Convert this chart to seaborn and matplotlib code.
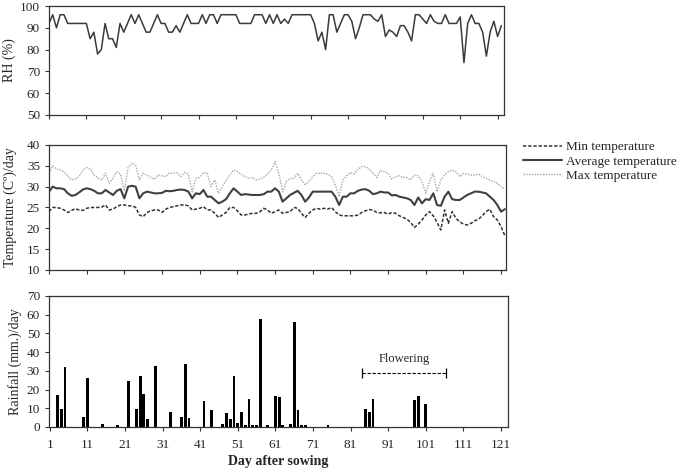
import matplotlib
matplotlib.use("Agg")
import matplotlib.pyplot as plt
import seaborn as sns

# day after sowing
days = list(range(1, 123))
x_ticks = list(range(1, 122, 10))

rh = [92, 96, 90, 96, 96, 92, 92, 92, 92, 92,
      92, 85, 88, 78, 80, 92, 85, 85, 81, 92,
      88, 92, 96, 92, 96, 92, 88, 88, 92, 96,
      92, 92, 88, 88, 91, 88, 92, 96, 92, 92,
      92, 96, 92, 96, 96, 92, 96, 96, 96, 96,
      96, 92, 92, 92, 92, 96, 96, 96, 92, 96,
      92, 96, 92, 94, 92, 96, 96, 96, 96, 96,
      96, 92, 84, 88, 80, 96, 96, 88, 92, 96,
      96, 93, 85, 90, 96, 96, 96, 94, 93, 96,
      86, 89, 88, 86, 91, 91, 88, 84, 96, 96,
      94, 92, 96, 93, 92, 92, 96, 92, 92, 92,
      95, 74, 92, 96, 92, 92, 88, 77, 88, 93,
      86, 91]

t_max = [33.2, 35.0, 34.2, 34.0, 33.6, 32.5, 31.6, 31.8, 32.4, 34.0,
         34.6, 34.3, 32.8, 32.0, 31.6, 33.2, 30.8, 32.0, 33.6, 33.0,
         29.0, 34.6, 35.6, 35.2, 31.6, 33.2, 32.8, 32.2, 31.8, 32.8,
         32.6, 32.4, 33.3, 33.2, 33.3, 32.4, 33.4, 33.0, 28.8, 32.0,
         32.2, 33.4, 33.2, 30.0, 31.6, 28.4, 30.0, 31.5, 32.8, 34.0,
         33.6, 33.0, 32.4, 32.0, 32.2, 31.6, 31.8, 32.3, 33.0, 34.0,
         36.0, 33.2, 28.8, 31.2, 32.0, 32.0, 33.2, 31.6, 30.4, 31.2,
         32.4, 33.2, 33.2, 33.2, 33.0, 32.4, 30.4, 27.6, 31.6, 32.6,
         33.4, 33.0, 34.2, 34.8, 34.8, 34.2, 33.2, 32.2, 33.8, 33.6,
         33.2, 31.8, 32.4, 32.6, 32.2, 32.2, 31.6, 32.8, 32.6, 31.2,
         28.4, 31.2, 33.2, 28.8, 31.6, 32.8, 33.6, 34.0, 33.6, 32.4,
         33.2, 33.0, 32.8, 32.8, 33.0, 32.4, 32.0, 31.6, 31.2, 30.8,
         30.0, 29.4]

t_avg = [28.8, 30.0, 29.6, 29.6, 29.4, 28.4, 27.8, 28.0, 28.6, 29.3,
         29.6, 29.4, 29.0, 28.4, 28.4, 29.2, 28.6, 28.0, 29.0, 29.4,
         27.2, 30.0, 30.2, 30.0, 27.2, 28.4, 28.8, 28.6, 28.4, 28.4,
         28.5, 29.0, 28.9, 29.0, 29.2, 29.3, 29.2, 28.8, 27.2, 28.4,
         28.2, 29.2, 27.6, 27.6, 26.8, 26.0, 26.4, 27.0, 28.4, 29.6,
         28.8, 28.0, 28.2, 28.1, 28.0, 28.0, 28.0, 28.2, 28.8, 28.8,
         29.6, 28.8, 26.4, 27.2, 28.0, 28.5, 29.0, 28.0, 26.4, 27.4,
         28.8, 28.8, 28.8, 28.8, 28.8, 28.8, 27.6, 25.6, 27.6, 27.6,
         28.4, 28.4, 29.0, 29.3, 29.4, 29.0, 28.2, 28.4, 28.8, 28.6,
         28.6, 27.9, 28.0, 27.6, 27.4, 27.2, 26.8, 25.6, 27.4, 26.0,
         27.0, 26.8, 28.4, 25.6, 25.4, 27.6, 28.8, 27.0, 26.8, 26.8,
         27.4, 28.0, 28.4, 28.8, 28.8, 28.6, 28.4, 27.6, 26.8, 25.6,
         24.0, 24.6]

t_min = [24.0, 25.0, 25.0, 24.8, 24.4, 23.8, 24.3, 24.7, 24.4, 24.3,
         24.8, 25.0, 25.0, 25.0, 25.1, 25.6, 24.4, 24.6, 25.2, 25.6,
         25.6, 25.4, 25.4, 25.0, 23.2, 22.8, 23.8, 24.2, 24.4, 24.4,
         23.8, 24.6, 25.0, 25.2, 25.4, 25.6, 25.6, 25.4, 24.4, 24.6,
         24.8, 25.2, 24.4, 24.4, 23.6, 22.6, 23.2, 23.8, 25.0, 25.0,
         24.2, 23.2, 23.2, 23.4, 23.6, 23.6, 24.0, 24.8, 24.4, 23.6,
         24.0, 24.4, 23.6, 23.8, 24.0, 25.0, 24.8, 23.6, 22.6, 23.6,
         24.4, 24.8, 24.6, 24.8, 24.6, 25.0, 24.0, 23.2, 23.0, 23.0,
         23.0, 23.0, 23.2, 23.8, 24.2, 24.5, 24.4, 23.8, 23.7, 23.8,
         23.4, 23.8, 23.6, 23.0, 22.6, 22.2, 21.4, 20.2, 21.0, 22.0,
         23.2, 24.0, 23.0, 21.4, 19.6, 24.4, 21.2, 24.0, 22.4, 21.6,
         21.0, 20.8, 21.2, 21.8, 22.2, 23.0, 24.0, 24.6, 22.8, 22.0,
         20.4, 18.2]

rain_days = [3, 4, 5, 10, 11, 15, 19, 22, 24, 25,
             26, 27, 29, 33, 36, 37, 38, 42, 44, 47,
             48, 49, 50, 51, 52, 53, 54, 55, 56, 57,
             59, 61, 62, 63, 65, 66, 67, 68, 69, 75,
             85, 86, 87, 98, 99, 101]
rain_mm = [17, 9.5, 32, 5.5, 26, 1.6, 0.8, 24.5, 9.5, 27.5,
           17.5, 4.5, 32.6, 8, 5.5, 33.5, 5, 14, 9, 1.8,
           7.5, 4.5, 27, 2.2, 8, 0.8, 15, 0.8, 0.8, 57.6,
           0.8, 16.3, 15.8, 1.1, 1.8, 56.2, 9, 0.8, 0.8, 1.2,
           9.7, 7.8, 15, 14.5, 16.8, 12.4]

sns.set_style("ticks")
plt.rcParams['font.family'] = ['Liberation Serif', 'DejaVu Serif']
plt.rcParams['axes.edgecolor'] = '#333333'
plt.rcParams['axes.linewidth'] = 0.9

fig = plt.figure(figsize=(6.85, 4.73), dpi=100)
ax1 = fig.add_axes([0.0715, 0.7569, 0.6642, 0.2304])
ax2 = fig.add_axes([0.0715, 0.4292, 0.6672, 0.2643])
ax3 = fig.add_axes([0.0715, 0.0973, 0.6701, 0.2770])

# RH
sns.lineplot(x=days, y=rh, ax=ax1, color='#3a3a3a', linewidth=1.1)
ax1.set_ylim(50, 100)
ax1.set_yticks(range(50, 101, 10))
ax1.set_xlim(1, 122.7)
ax1.set_ylabel("RH (%)", fontsize=10)

# temperature
sns.lineplot(x=days, y=t_min, ax=ax2, color='#333333', linewidth=1.1,
             linestyle=(0, (2.2, 1.2)), label="Min temperature")
sns.lineplot(x=days, y=t_avg, ax=ax2, color='#404040', linewidth=1.5,
             label="Average temperature")
sns.lineplot(x=days, y=t_max, ax=ax2, color='#a8a8a8', linewidth=1.0,
             linestyle=(0, (1, 1)), label="Max temperature")
ax2.set_ylim(10, 40)
ax2.set_yticks(range(10, 41, 5))
ax2.set_xlim(1, 122.3)
ax2.set_ylabel("Temperature (Cº)/day", fontsize=10)
ax2.legend(loc='upper left', bbox_to_anchor=(1.0365, 1.03), frameon=False,
           fontsize=9.5, handlelength=3.0, handletextpad=0.25, labelspacing=0.15,
           borderpad=0, borderaxespad=0)

# rainfall
sns.barplot(x=rain_days, y=rain_mm, ax=ax3, native_scale=True, color='black',
            saturation=1, width=0.75, errorbar=None, linewidth=0)
ax3.set_ylim(0, 70)
ax3.set_yticks(range(0, 71, 10))
ax3.set_xlim(0.75, 122.9)
ax3.set_ylabel("Rainfall (mm.)/day", fontsize=10)
ax3.set_xlabel("Day after sowing", fontsize=10, fontweight='bold')

# flowering period
ax3.plot([84, 106.4], [29, 29], color='black', linewidth=0.8, linestyle=(0, (3, 1.5)))
ax3.plot([84, 106.4], [29, 29], color='black', linestyle='none', marker='|',
         markersize=7, markeredgewidth=0.9)
ax3.text(95.2, 33, "Flowering", ha='center', va='bottom', fontsize=9)

for ax in (ax1, ax2, ax3):
    ax.set_xticks(x_ticks)
    ax.tick_params(axis='both', length=3, width=0.8, labelsize=9.5, pad=3.5,
                   color='#333333')
    for s in ax.spines.values():
        s.set_visible(True)
for ax in (ax1, ax2):
    ax.tick_params(labelbottom=False)
    ax.set_xlabel("")
ax3.set_xticklabels([str(t) for t in x_ticks])
ax3.tick_params(axis='x', pad=6)

ax1.yaxis.set_label_coords(-0.073, 0.5)
ax2.yaxis.set_label_coords(-0.069, 0.5)
ax3.yaxis.set_label_coords(-0.059, 0.5)
ax3.xaxis.set_label_coords(0.499, -0.215)

fig.savefig("out.png", dpi=100)
